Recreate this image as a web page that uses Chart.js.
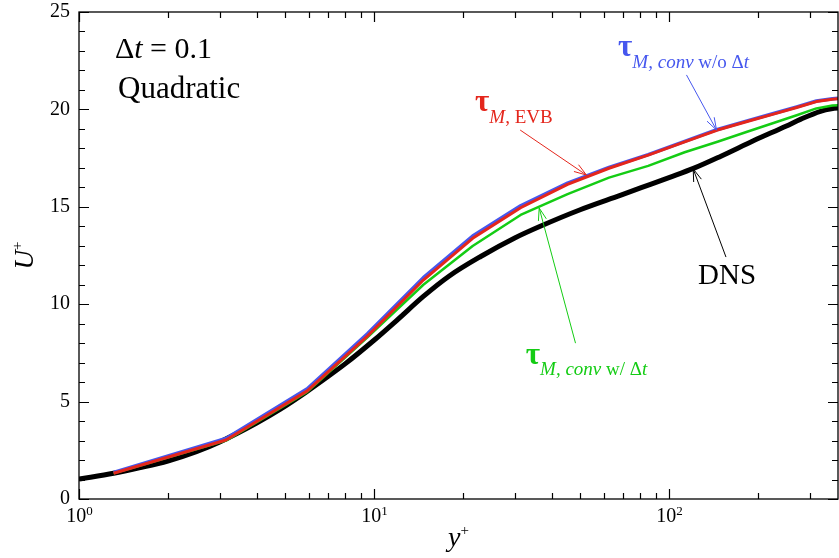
<!DOCTYPE html>
<html>
<head>
<meta charset="utf-8">
<script src="https://cdn.jsdelivr.net/npm/chart.js@4.4.1/dist/chart.umd.min.js"></script>
<style>
  html, body { margin: 0; padding: 0; background: #fff; }
</style>
</head>
<body>
<canvas id="chart" width="839" height="558"></canvas>
<script>
// LES grid points (y+) and mean velocity U+ for the three models
const lesYPlus  = [1.31, 3.15, 5.94, 9.5, 14.7, 21.6, 31.4, 45.3, 62.6, 85, 113, 146, 184, 226, 271, 316, 358, 395];
const evbU      = [1.32, 3.03, 5.55, 8.36, 11.24, 13.38, 14.95, 16.15, 16.98, 17.65, 18.33, 18.94, 19.38, 19.76, 20.10, 20.40, 20.52, 20.58];
const convNoDtU = [1.37, 3.11, 5.66, 8.48, 11.36, 13.50, 15.05, 16.22, 17.02, 17.68, 18.36, 18.97, 19.41, 19.79, 20.13, 20.43, 20.55, 20.61];
const convDtU   = [1.32, 3.00, 5.50, 8.30, 11.00, 12.99, 14.58, 15.65, 16.50, 17.10, 17.80, 18.34, 18.85, 19.30, 19.70, 20.05, 20.20, 20.24];

// DNS reference profile
const dnsYPlus = [1, 1.31, 1.6, 2, 2.5, 3, 4, 4.8, 5.9, 7, 8, 10, 12, 14.7, 18, 23, 30, 36.6, 50, 68.7, 80.5, 100, 121, 150, 194, 250, 280, 326, 355, 395];
const dnsU     = [1.02, 1.32, 1.6, 1.95, 2.43, 2.93, 3.9, 4.6, 5.5, 6.3, 6.95, 8.15, 9.2, 10.4, 11.45, 12.45, 13.4, 14.0, 14.85, 15.6, 15.98, 16.5, 16.97, 17.6, 18.4, 19.15, 19.5, 19.9, 20.03, 20.1];

const yTickValues = [0, 5, 10, 15, 20, 25];
const xDecades = [0, 1, 2];

const SERIF = '"Liberation Serif", "Times New Roman", serif';
const RED = '#e4261c';
const BLUE = '#4657ee';
const GREEN = '#14cc14';

function toPoints(xs, ys) {
    return xs.map((x, i) => ({ x: x, y: ys[i] }));
}

// draws a run of text pieces: [text, font, dy]
function richText(ctx, x, y, parts, align) {
    let w = 0;
    parts.forEach(p => { ctx.font = p[1]; w += ctx.measureText(p[0]).width; });
    let cx = align === 'center' ? x - w / 2 : x;
    parts.forEach(p => {
        ctx.font = p[1];
        ctx.fillText(p[0], cx, y + (p[2] || 0));
        cx += ctx.measureText(p[0]).width;
    });
}

function arrow(ctx, x1, y1, x2, y2, color) {
    const a = Math.atan2(y2 - y1, x2 - x1), len = 13, spread = 0.32;
    ctx.strokeStyle = color;
    ctx.lineWidth = 1;
    ctx.beginPath();
    ctx.moveTo(x1, y1);
    ctx.lineTo(x2, y2);
    ctx.moveTo(x2 - len * Math.cos(a - spread), y2 - len * Math.sin(a - spread));
    ctx.lineTo(x2, y2);
    ctx.lineTo(x2 - len * Math.cos(a + spread), y2 - len * Math.sin(a + spread));
    ctx.stroke();
}

const decorations = {
    id: 'decorations',
    afterDraw(chart) {
        const ctx = chart.ctx;
        const area = chart.chartArea;
        const xs = chart.scales.x, ys = chart.scales.y;
        const px = v => xs.getPixelForValue(v);
        const py = v => ys.getPixelForValue(v);
        ctx.save();
        ctx.fillStyle = '#000';
        ctx.strokeStyle = '#000';
        ctx.textBaseline = 'alphabetic';
        ctx.textAlign = 'left';

        // frame
        ctx.lineWidth = 1.3;
        ctx.strokeRect(area.left, area.top, area.right - area.left, area.bottom - area.top);

        // y ticks (inward, both sides)
        ctx.lineWidth = 1.2;
        ctx.beginPath();
        for (let v = ys.min; v <= ys.max; v++) {
            const len = v % 5 === 0 ? 10 : 6;
            const y = Math.round(py(v)) + 0.5;
            ctx.moveTo(area.left, y); ctx.lineTo(area.left + len, y);
            ctx.moveTo(area.right, y); ctx.lineTo(area.right - len, y);
        }
        // x ticks (log, inward, bottom and top)
        xDecades.forEach(d => {
            for (let m = 1; m <= 9; m++) {
                const v = m * Math.pow(10, d);
                if (v < xs.min || v > xs.max) continue;
                const len = m === 1 ? 10 : 6;
                const x = Math.round(px(v)) + 0.5;
                ctx.moveTo(x, area.bottom); ctx.lineTo(x, area.bottom - len);
                ctx.moveTo(x, area.top); ctx.lineTo(x, area.top + len);
            }
        });
        ctx.stroke();

        // x tick labels 10^n
        xDecades.forEach(d => {
            richText(ctx, px(Math.pow(10, d)) + 0.5, area.bottom + 23, [
                ['10', `20px ${SERIF}`],
                [String(d), `13px ${SERIF}`, -7]
            ], 'center');
        });

        // axis titles
        richText(ctx, (area.left + area.right) / 2, area.bottom + 47, [
            ['y', `italic 28px ${SERIF}`],
            ['+', `15px ${SERIF}`, -11]
        ], 'center');
        ctx.save();
        ctx.translate(33, (area.top + area.bottom) / 2);
        ctx.rotate(-Math.PI / 2);
        richText(ctx, 0, 0, [
            ['U', `italic 27px ${SERIF}`],
            ['+', `15px ${SERIF}`, -11]
        ], 'center');
        ctx.restore();

        // case labels
        richText(ctx, px(1.324), py(22.64), [
            ['\u0394', `30px ${SERIF}`],
            ['t', `italic 30px ${SERIF}`],
            [' = 0.1', `30px ${SERIF}`]
        ]);
        richText(ctx, px(1.356), py(20.59), [['Quadratic', `31px ${SERIF}`]]);

        // curve labels with arrows
        ctx.fillStyle = '#000';
        richText(ctx, px(125.4), py(11.04), [['DNS', `29px ${SERIF}`]]);
        arrow(ctx, px(156), py(12.42), px(120.8), py(16.94), '#000');

        ctx.fillStyle = RED;
        richText(ctx, px(22.0), py(19.93), [
            ['\u03c4', `bold 31px ${SERIF}`],
            ['M', `italic 19px ${SERIF}`, 12],
            [', EVB', `19px ${SERIF}`, 12]
        ]);
        arrow(ctx, px(31.3), py(18.94), px(52.5), py(16.63), RED);

        ctx.fillStyle = BLUE;
        richText(ctx, px(67.2), py(22.74), [
            ['\u03c4', `bold 31px ${SERIF}`],
            ['M, conv', `italic 19px ${SERIF}`, 12],
            [' w/o \u0394', `19px ${SERIF}`, 12],
            ['t', `italic 19px ${SERIF}`, 12]
        ]);
        arrow(ctx, px(114.6), py(21.77), px(144.9), py(18.94), BLUE);

        ctx.fillStyle = GREEN;
        richText(ctx, px(32.7), py(6.93), [
            ['\u03c4', `bold 31px ${SERIF}`],
            ['M, conv', `italic 19px ${SERIF}`, 11],
            [' w/ \u0394', `19px ${SERIF}`, 11],
            ['t', `italic 19px ${SERIF}`, 11]
        ]);
        arrow(ctx, px(48.2), py(8.0), px(36.3), py(14.94), GREEN);

        ctx.restore();
    }
};

new Chart(document.getElementById('chart').getContext('2d'), {
    type: 'line',
    data: {
        datasets: [
            { label: 'tau_M,EVB', data: toPoints(lesYPlus, evbU), borderColor: RED, borderWidth: 3 },
            { label: 'tau_M,conv w/o dt', data: toPoints(lesYPlus, convNoDtU), borderColor: BLUE, borderWidth: 3.5 },
            { label: 'tau_M,conv w/ dt', data: toPoints(lesYPlus, convDtU), borderColor: GREEN, borderWidth: 2.5 },
            { label: 'DNS', data: toPoints(dnsYPlus, dnsU), borderColor: '#000', borderWidth: 5, cubicInterpolationMode: 'monotone' }
        ]
    },
    options: {
        responsive: false,
        animation: false,
        devicePixelRatio: 1,
        layout: { padding: { left: 0, right: 1, top: 12, bottom: 59 } },
        elements: { point: { radius: 0 }, line: { tension: 0, borderJoinStyle: 'round', borderCapStyle: 'butt' } },
        plugins: { legend: { display: false }, tooltip: { enabled: false } },
        scales: {
            x: {
                type: 'logarithmic',
                min: 1,
                max: 374,
                display: false
            },
            y: {
                type: 'linear',
                min: 0,
                max: 25,
                afterFit(scale) {
                    scale.width = 79;
                    scale.paddingTop = 0;
                    scale.paddingBottom = 0;
                },
                afterBuildTicks(scale) { scale.ticks = yTickValues.map(v => ({ value: v })); },
                grid: { display: false, drawTicks: false },
                border: { display: false },
                ticks: {
                    padding: 9,
                    color: '#000',
                    font: { family: SERIF, size: 20, lineHeight: 1 }
                }
            }
        }
    },
    plugins: [decorations]
});
</script>
</body>
</html>
